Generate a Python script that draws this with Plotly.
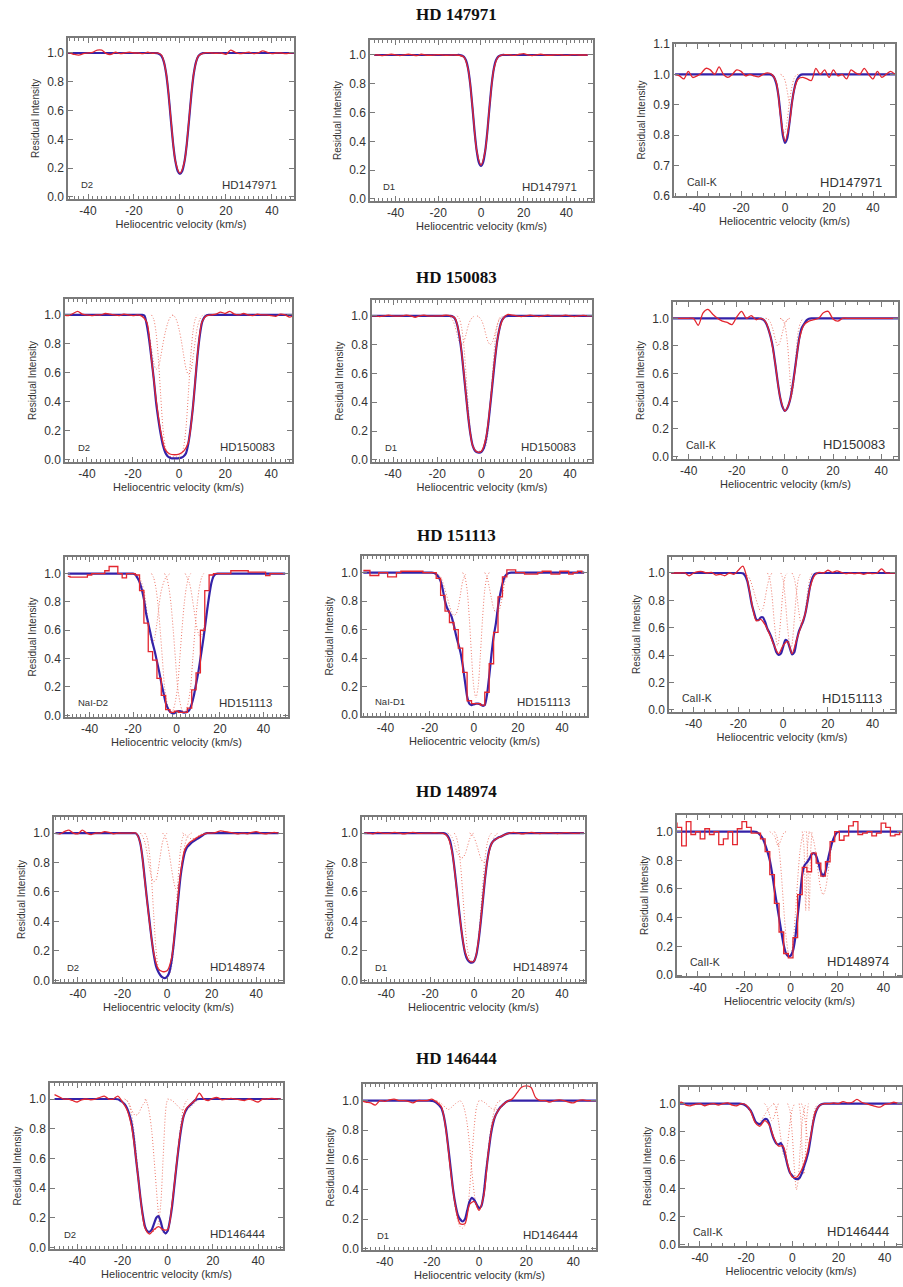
import plotly.graph_objects as go

# ---------------- data ----------------
V_OBS = list(range(-50, 51, 2))                 # observed spectrum grid (km/s)
V_FIT = [-50] + list(range(-24, 25)) + [50]     # fit grid (km/s)

ROW_TITLES = ["HD 147971", "HD 150083", "HD 151113", "HD 148974", "HD 146444"]
STAR_LABELS = ["HD147971", "HD150083", "HD151113", "HD148974", "HD146444"]
LINE_LABELS = [["D2", "D1", "CaII-K"], ["D2", "D1", "CaII-K"], ["NaI-D2", "NaI-D1", "CaII-K"],
               ["D2", "D1", "CaII-K"], ["D2", "D1", "CaII-K"]]
X_TICKS = [-40, -20, 0, 20, 40]
Y_TICKS = [0.0, 0.2, 0.4, 0.6, 0.8, 1.0]
Y_TICKS_CAK1 = [0.6, 0.7, 0.8, 0.9, 1.0, 1.1]

# observed residual intensity on V_OBS
OBS_1 = [1.0,1.0,0.99,0.985,0.995,1.0,1.005,1.02,1.02,0.995,
         0.99,1.005,0.995,1.0,1.005,1.0,1.0,0.995,1.005,0.998,
         1.0,0.985,0.86,0.55,0.25,0.165,0.25,0.55,0.86,0.98,
         0.998,1.002,1.0,0.998,1.0,0.99,1.02,1.005,0.995,1.0,
         1.005,0.995,1.0,1.015,1.005,0.995,1.0,1.0,0.995,1.0, 1.0]
OBS_2 = [1.0,1.0,0.995,1.0,1.005,1.0,0.995,1.0,1.005,1.0,
         0.995,1.005,1.0,0.998,1.0,1.002,1.0,0.998,1.0,1.0,
         0.997,0.985,0.9,0.64,0.335,0.235,0.335,0.64,0.9,0.985,
         1.0,1.003,1.0,0.998,1.005,1.01,1.0,0.995,1.0,1.005,
         1.0,0.998,1.0,1.003,1.0,0.997,1.0,1.002,1.0,1.0, 1.0]
OBS_3 = [1.0,0.995,0.985,1.01,0.99,0.995,1.005,1.02,1.015,1.0,
         1.025,1.0,0.99,1.0,1.015,1.01,0.995,1.0,0.995,0.992,
         1.0,1.005,1.0,0.975,0.86,0.78,0.84,0.945,0.985,0.99,
         0.985,0.98,1.02,1.0,1.015,0.99,1.015,0.995,1.0,0.985,
         1.015,1.005,1.0,1.02,1.0,0.985,1.01,0.99,1.0,1.01, 1.0]
OBS_4 = [1.0,0.995,1.01,1.025,1.005,1.0,0.995,1.0,1.0,1.01,
         1.005,1.0,0.995,1.005,1.0,0.995,1.0,0.99,0.95,0.7,
         0.42,0.2,0.07,0.04,0.035,0.04,0.06,0.12,0.36,0.73,
         0.955,0.995,1.0,1.005,1.02,1.01,1.025,1.005,1.0,1.01,
         1.0,0.995,1.005,1.0,1.0,0.995,0.99,1.005,1.0,0.985, 1.0]
OBS_5 = [1.0,1.0,0.995,1.0,1.005,1.0,0.998,1.0,1.005,1.0,
         0.99,1.0,1.005,1.0,0.998,1.0,1.0,1.005,1.0,0.985,
         0.87,0.61,0.3,0.1,0.055,0.06,0.15,0.39,0.69,0.9,
         0.985,1.01,1.005,1.0,0.995,1.0,1.005,1.0,0.995,1.0,
         1.005,1.0,0.998,1.0,1.005,1.0,0.995,1.0,1.003,1.0, 1.0]
OBS_6 = [1.0,1.0,1.0,1.0,1.0,1.0,1.0,0.95,1.04,1.065,
         1.03,1.0,0.98,0.97,0.955,1.01,1.05,1.0,1.02,0.99,
         1.0,0.975,0.87,0.67,0.43,0.33,0.4,0.6,0.85,0.955,
         0.98,0.99,1.0,1.04,1.05,0.995,0.98,1.0,1.0,1.0,
         1.0,1.0,1.0,1.0,1.0,1.0,1.0,1.0,1.0,1.0, 1.0]
OBS_7 = [0.98,0.975,0.975,0.975,0.975,0.99,1.0,1.0,1.0,1.02,
         1.05,1.05,1.0,0.97,1.0,1.0,0.99,0.88,0.65,0.45,
         0.39,0.26,0.14,0.04,0.02,0.03,0.02,0.02,0.05,0.18,
         0.3,0.6,0.88,0.99,1.0,1.0,1.0,1.0,1.02,1.02,
         1.02,1.02,1.01,1.01,1.01,1.01,0.985,1.0,1.0,1.0, 1.0]
OBS_8 = [1.015,1.015,0.98,0.98,1.0,1.0,0.97,0.97,1.0,1.01,
         1.01,1.01,1.01,1.01,1.0,1.0,1.0,0.96,0.84,0.73,
         0.65,0.6,0.47,0.3,0.1,0.08,0.08,0.07,0.16,0.36,
         0.58,0.83,0.97,1.02,1.02,1.0,1.0,0.99,0.99,0.99,
         1.0,1.01,1.01,0.99,0.99,1.01,1.01,0.99,1.0,1.01, 1.0]
OBS_9 = [1.0,1.0,1.0,1.0,0.98,1.0,1.01,1.01,1.0,1.005,
         0.985,0.99,0.98,1.0,0.99,1.02,1.05,0.95,0.78,0.65,
         0.66,0.62,0.55,0.47,0.41,0.47,0.5,0.41,0.51,0.61,
         0.71,0.89,0.98,1.005,1.0,1.02,1.005,1.015,1.005,0.995,
         1.0,0.995,1.0,0.99,1.0,0.995,1.0,1.03,1.0,1.0, 1.0]
OBS_10 = [1.0,0.995,1.01,1.02,1.0,0.995,1.02,1.0,0.99,1.0,
          1.0,1.01,1.005,0.995,1.0,1.0,1.0,1.0,1.0,0.93,
          0.68,0.41,0.19,0.08,0.06,0.065,0.15,0.42,0.72,0.89,
          0.935,0.955,0.975,0.99,1.0,1.0,1.005,1.015,1.01,1.005,
          1.0,0.995,1.0,0.995,1.005,1.01,1.0,0.995,1.0,1.005, 1.0]
OBS_11 = [1.0,1.0,0.995,1.005,1.0,0.998,1.0,1.005,1.0,0.995,
          1.0,1.005,1.0,0.998,1.0,1.0,1.002,1.0,0.998,0.975,
          0.87,0.63,0.37,0.19,0.13,0.13,0.27,0.55,0.81,0.93,
          0.96,0.975,0.99,1.0,1.005,1.0,0.995,1.0,1.005,1.0,
          0.997,1.0,1.003,1.0,0.997,1.0,1.003,1.0,0.998,1.0, 1.0]
OBS_12 = [1.06,1.03,0.9,1.07,0.98,1.0,0.95,1.02,0.98,1.0,
          0.91,0.95,1.0,0.91,1.02,1.07,1.03,0.99,0.99,0.95,
          0.86,0.7,0.5,0.3,0.15,0.12,0.26,0.56,0.75,0.72,
          0.85,0.78,0.69,0.79,0.93,1.0,0.94,0.97,1.04,1.07,
          0.98,0.99,1.0,0.97,0.99,1.06,1.03,0.97,0.98,1.0, 1.0]
OBS_13 = [1.03,1.015,1.0,1.0,0.99,0.98,0.995,1.0,0.995,1.0,
          1.01,1.02,1.0,1.0,1.02,0.98,0.93,0.82,0.6,0.33,
          0.13,0.09,0.12,0.14,0.12,0.12,0.3,0.57,0.81,0.93,
          0.965,0.99,1.04,1.0,0.99,1.005,1.01,0.995,1.0,1.005,
          1.0,0.995,0.99,1.0,0.99,0.98,1.0,1.0,1.005,1.0, 1.0]
OBS_14 = [1.0,0.99,0.985,0.97,1.0,0.995,1.005,1.01,1.0,1.0,
          0.995,0.985,1.0,1.0,1.0,1.01,0.99,0.96,0.8,0.52,
          0.29,0.17,0.17,0.3,0.32,0.26,0.36,0.66,0.86,0.93,
          0.97,0.995,1.01,1.05,1.09,1.1,1.09,1.02,1.0,1.0,
          0.99,1.0,1.005,1.0,0.99,0.985,1.0,1.005,1.0,1.0, 1.0]
OBS_15 = [1.0,1.01,0.99,0.985,0.995,1.0,0.985,0.995,1.0,0.99,
          1.0,1.005,0.99,0.985,1.0,0.99,0.945,0.865,0.84,0.88,
          0.85,0.76,0.7,0.7,0.57,0.48,0.48,0.53,0.62,0.77,
          0.94,0.99,1.0,1.0,1.005,1.0,1.015,1.005,1.01,1.03,
          1.01,1.0,0.99,0.98,0.975,0.995,1.0,1.01,1.0,1.005, 1.0]

# fitted profiles on V_FIT
FIT_1 = [1.0, 1,1,1,1,1,1,1,1,1,1, 1,1,1,1,0.999,0.993,0.978,0.938,0.856,0.72,
         0.543,0.373,0.249,0.181,0.16,0.181,0.249,0.373,0.543,0.72,
         0.856,0.938,0.978,0.993,0.999,1,1,1,1,1, 1,1,1,1,1,1,1,1,1, 1.0]
FIT_2 = [1.0, 1,1,1,1,1,1,1,1,1,1, 1,1,1,1,1.0,0.996,0.987,0.962,0.903,0.794,
         0.638,0.47,0.335,0.255,0.23,0.255,0.335,0.47,0.638,0.794,
         0.903,0.962,0.987,0.996,1,1,1,1,1,1, 1,1,1,1,1,1,1,1,1, 1.0]
FIT_3 = [1.0, 1,1,1,1,1,1,1,1,1,1, 1,1,1,1,1,1,1,1,0.998,0.99,
         0.97,0.93,0.865,0.8,0.775,0.79,0.84,0.9,0.945,0.975,
         0.99,0.998,1,1,1,1,1,1,1,1, 1,1,1,1,1,1,1,1,1, 1.0]
FIT_4 = [1.0, 1,1,1,1,1,1,1,1,1,0.995, 0.93,0.83,0.7,0.56,0.4,0.28,0.18,0.1,0.05,0.025,
         0.015,0.01,0.01,0.01,0.012,0.015,0.025,0.045,0.11,0.22,
         0.36,0.54,0.72,0.86,0.95,0.985,0.998,1,1,1, 1,1,1,1,1,1,1,1,1, 1.0]
FIT_5 = [1.0, 1,1,1,1,1,1,1,1,1,1, 1,0.995,0.98,0.94,0.86,0.75,0.6,0.45,0.3,0.18,
         0.1,0.065,0.052,0.05,0.055,0.08,0.14,0.24,0.38,0.53,
         0.68,0.81,0.9,0.96,0.985,0.997,1,1,1,1, 1,1,1,1,1,1,1,1,1, 1.0]
FIT_6 = [1.0, 1,1,1,1,1,1,1,1,1,1, 1,1,1,1,0.998,0.99,0.97,0.93,0.87,0.79,
         0.67,0.54,0.43,0.36,0.33,0.35,0.4,0.49,0.61,0.74,
         0.86,0.93,0.96,0.985,0.997,1,1,1,1,1, 1,1,1,1,1,1,1,1,1, 1.0]
FIT_7 = [1.0, 1,1,1,1,1,0.995,0.97,0.94,0.89,0.82, 0.72,0.65,0.58,0.51,0.45,0.38,0.31,0.23,0.16,0.09,
         0.05,0.025,0.015,0.015,0.025,0.03,0.028,0.02,0.02,0.025,
         0.04,0.08,0.14,0.22,0.3,0.4,0.5,0.61,0.73,0.84, 0.93,0.98,0.997,1,1,1,1,1,1, 1.0]
FIT_8 = [1.0, 1,1,1,1,1,1,0.998,0.99,0.97,0.94, 0.88,0.8,0.75,0.72,0.69,0.63,0.56,0.5,0.44,0.35,
         0.24,0.13,0.08,0.07,0.075,0.08,0.08,0.075,0.065,0.07,
         0.14,0.27,0.42,0.55,0.64,0.76,0.85,0.92,0.97,0.99, 0.998,1,1,1,1,1,1,1,1, 1.0]
FIT_9 = [1.0, 1,1,1,1,1,1,0.998,0.98,0.94,0.86, 0.77,0.71,0.66,0.655,0.675,0.675,0.64,0.59,0.56,0.52,
         0.47,0.42,0.4,0.41,0.46,0.51,0.5,0.45,0.405,0.42,
         0.5,0.57,0.61,0.65,0.71,0.8,0.9,0.96,0.99,0.998, 1,1,1,1,1,1,1,1,1, 1.0]
FIT_10 = [1.0, 1,1,1,1,1,1,1,1,1,1, 0.998,0.98,0.93,0.83,0.69,0.55,0.42,0.29,0.18,0.1,
          0.06,0.035,0.02,0.015,0.025,0.055,0.13,0.25,0.4,0.55,
          0.7,0.8,0.87,0.905,0.92,0.935,0.945,0.955,0.965,0.975, 0.985,0.995,1,1,1,1,1,1,1, 1.0]
FIT_11 = [1.0, 1,1,1,1,1,1,1,1,1,1, 1,0.995,0.98,0.95,0.88,0.77,0.64,0.5,0.37,0.26,
          0.18,0.14,0.125,0.12,0.13,0.17,0.26,0.39,0.54,0.69,
          0.81,0.89,0.93,0.95,0.96,0.97,0.975,0.982,0.99,0.996, 1,1,1,1,1,1,1,1,1, 1.0]
FIT_12 = [1.0, 1,1,1,1,1,1,1,1,1,0.998, 0.99,0.975,0.95,0.91,0.86,0.8,0.71,0.6,0.5,0.4,
          0.3,0.21,0.15,0.13,0.135,0.17,0.26,0.41,0.55,0.7,
          0.765,0.785,0.81,0.84,0.85,0.83,0.78,0.72,0.69,0.72, 0.8,0.87,0.93,0.97,0.995,1,1,1,1, 1.0]
FIT_13 = [1.0, 1,1,0.998,0.99,0.98,0.965,0.94,0.9,0.84,0.74, 0.6,0.47,0.33,0.22,0.14,0.11,0.105,0.12,0.16,0.2,
          0.21,0.17,0.115,0.095,0.11,0.18,0.28,0.42,0.56,0.69,
          0.8,0.88,0.92,0.945,0.96,0.975,0.99,0.998,1,1, 1,1,1,1,1,1,1,1,1, 1.0]
FIT_14 = [1.0, 1,1,1,1,0.998,0.995,0.985,0.97,0.95,0.9, 0.81,0.68,0.54,0.4,0.3,0.23,0.2,0.185,0.2,0.26,
          0.32,0.345,0.33,0.3,0.275,0.29,0.37,0.52,0.65,0.77,
          0.85,0.9,0.93,0.955,0.97,0.985,0.995,1,1,1, 1,1,1,1,1,1,1,1,1, 1.0]
FIT_15 = [1.0, 1,1,0.998,0.995,0.985,0.97,0.95,0.915,0.875,0.86, 0.855,0.87,0.89,0.89,0.86,0.8,0.75,0.72,0.71,0.72,
          0.69,0.63,0.56,0.51,0.49,0.47,0.465,0.47,0.5,0.55,
          0.6,0.66,0.76,0.86,0.93,0.97,0.99,0.998,1,1, 1,1,1,1,1,1,1,1,1, 1.0]

# individual absorption components: lists of (velocity, intensity)
COMP_1 = []
COMP_2 = []
COMP_3 = [
    [(-6,1.0),(-5,0.995),(-4,0.975),(-3,0.93),(-2,0.87),(-1,0.82),(-0.5,0.805),(0,0.81),(1,0.85),(2,0.91),(3,0.955),(4,0.985),(5,0.997),(6,1.0)],
    [(-2,1.0),(-1,0.995),(0,0.98),(1,0.945),(2,0.905),(2.5,0.9),(3,0.905),(4,0.94),(5,0.975),(6,0.993),(7,1.0)],
]
COMP_4 = [
    [(-16,1.0),(-15,0.99),(-14,0.95),(-13,0.87),(-12,0.77),(-11,0.67),(-10,0.625),(-9,0.64),(-8,0.71),(-7,0.8),(-6,0.88),(-5,0.94),(-4,0.98),(-3,0.995),(-2,1.0)],
    [(-3,1.0),(-2,0.99),(-1,0.96),(0,0.9),(1,0.82),(2,0.72),(3,0.63),(4,0.59),(5,0.61),(6,0.7),(7,0.82),(8,0.92),(9,0.97),(10,0.995),(11,1.0)],
    [(-12,1.0),(-11,0.97),(-10,0.88),(-9,0.7),(-8,0.45),(-7,0.22),(-6,0.09),(-5,0.04),(-4,0.025),(-3,0.02),(-2,0.02),(-1,0.02),(0,0.025),(1,0.04),(2,0.09),(3,0.22),(4,0.45),(5,0.7),(6,0.88),(7,0.97),(8,1.0)],
]
COMP_5 = [
    [(-15,1.0),(-14,0.99),(-13,0.97),(-12,0.93),(-11,0.87),(-10,0.82),(-9,0.8),(-8,0.82),(-7,0.87),(-6,0.93),(-5,0.97),(-4,0.99),(-3,1.0)],
    [(-2,1.0),(-1,0.99),(0,0.97),(1,0.93),(2,0.87),(3,0.82),(4,0.8),(5,0.82),(6,0.87),(7,0.93),(8,0.97),(9,0.99),(10,1.0)],
    [(-11,1.0),(-10,0.98),(-9,0.92),(-8,0.8),(-7,0.6),(-6,0.38),(-5,0.2),(-4,0.1),(-3,0.07),(-2,0.06),(-1,0.06),(0,0.06),(1,0.07),(2,0.1),(3,0.2),(4,0.38),(5,0.6),(6,0.8),(7,0.92),(8,0.98),(9,1.0)],
]
COMP_6 = [
    [(-8,1.0),(-7,0.995),(-6,0.97),(-5,0.92),(-4,0.85),(-3,0.8),(-2,0.83),(-1,0.9),(0,0.96),(1,0.99),(2,1.0)],
    [(-2,1.0),(-1,0.99),(0,0.97),(1,0.99),(2,1.0)],
    [(-2,1.0),(-1,0.99),(0,0.95),(1,0.83),(2,0.6),(2.7,0.43),(3.5,0.5),(4.5,0.72),(5.5,0.9),(6.5,0.97),(7.5,1.0)],
]
COMP_7 = [
    [(-11.5,1.0),(-10.5,0.97),(-9.5,0.9),(-8.5,0.78),(-7.5,0.6),(-6.5,0.4),(-5.5,0.2),(-4.5,0.1),(-3.5,0.04),(-2.5,0.02),(-1.5,0.04),(-0.5,0.1),(0.5,0.2),(1.5,0.4),(2.5,0.6),(3.5,0.78),(4.5,0.9),(5.5,0.97),(6.5,1.0)],
    [(-5.5,1.0),(-4.5,0.97),(-3.5,0.9),(-2.5,0.78),(-1.5,0.6),(-0.5,0.4),(0.5,0.2),(1.5,0.1),(2.5,0.04),(3.5,0.02),(4.5,0.04),(5.5,0.1),(6.5,0.2),(7.5,0.4),(8.5,0.6),(9.5,0.78),(10.5,0.9),(11.5,0.97),(12.5,1.0)],
    [(-19,1.0),(-17,0.97),(-15,0.88),(-13,0.65),(-12,0.55),(-11,0.5),(-10,0.55),(-9,0.65),(-7,0.88),(-5,0.97),(-3,1.0)],
    [(4,1.0),(6,0.93),(8,0.75),(9,0.65),(10,0.58),(11,0.55),(12,0.58),(13,0.65),(14,0.75),(16,0.93),(18,1.0)],
]
COMP_8 = [
    [(-17,1.0),(-15,0.97),(-13,0.88),(-11,0.77),(-10,0.72),(-9,0.7),(-8,0.71),(-7,0.76),(-6,0.85),(-5,0.94),(-4,0.98),(-3,1.0)],
    [(-5,1.0),(-4,0.97),(-3,0.88),(-2,0.68),(-1,0.42),(0,0.2),(1,0.12),(2,0.2),(3,0.42),(4,0.68),(5,0.88),(6,0.97),(7,1.0)],
    [(5,1.0),(6,0.97),(7,0.9),(8,0.82),(9,0.75),(10,0.72),(11,0.72),(12,0.76),(13,0.84),(14,0.93),(15,0.98),(16,1.0)],
]
COMP_9 = [
    [(-17,1.0),(-15,0.96),(-13,0.86),(-11,0.75),(-10,0.72),(-9,0.74),(-8,0.82),(-7,0.91),(-6,0.97),(-5,1.0)],
    [(-7,1.0),(-6,0.96),(-5,0.84),(-4,0.65),(-3,0.5),(-2.5,0.47),(-2,0.5),(-1,0.68),(0,0.88),(1,0.98),(2,1.0)],
    [(-1,1.0),(0,0.95),(1,0.8),(2,0.6),(3,0.47),(3.5,0.45),(4,0.48),(5,0.66),(6,0.86),(7,0.97),(8,1.0)],
    [(4,1.0),(5,0.96),(6,0.86),(7,0.72),(8,0.63),(8.5,0.62),(9,0.64),(10,0.74),(11,0.87),(12,0.96),(13,1.0)],
]
COMP_10 = [
    [(-12,1.0),(-11,0.98),(-10,0.94),(-9,0.87),(-8,0.78),(-7,0.7),(-6,0.67),(-5,0.68),(-4,0.75),(-3,0.85),(-2,0.94),(-1,0.98),(0,1.0)],
    [(-2,1.0),(-1,0.98),(0,0.94),(1,0.86),(2,0.76),(3,0.67),(4,0.62),(5,0.64),(6,0.72),(7,0.83),(8,0.92),(9,0.97),(10,0.99),(11,1.0)],
    [(7,1.0),(9,0.98),(11,0.96),(13,0.97),(15,0.99),(17,1.0)],
    [(-10,1.0),(-9,0.97),(-8,0.88),(-7,0.7),(-6,0.45),(-5,0.22),(-4,0.09),(-3,0.04),(-2,0.025),(-1,0.02),(0,0.025),(1,0.04),(2,0.09),(3,0.22),(4,0.45),(5,0.7),(6,0.88),(7,0.97),(8,1.0)],
]
COMP_11 = [
    [(-12,1.0),(-11,0.99),(-10,0.97),(-9,0.93),(-8,0.88),(-7,0.85),(-6,0.83),(-5,0.835),(-4,0.86),(-3,0.91),(-2,0.96),(-1,0.99),(0,1.0)],
    [(-2,1.0),(-1,0.99),(0,0.97),(1,0.93),(2,0.88),(3,0.83),(4,0.805),(5,0.8),(6,0.82),(7,0.87),(8,0.93),(9,0.97),(10,0.99),(11,1.0)],
    [(-9,1.0),(-8,0.97),(-7,0.9),(-6,0.76),(-5,0.56),(-4,0.36),(-3,0.21),(-2,0.15),(-1,0.13),(0,0.135),(1,0.17),(2,0.28),(3,0.46),(4,0.66),(5,0.83),(6,0.93),(7,0.98),(8,1.0)],
]
COMP_12 = [
    [(-9,1.0),(-7,0.97),(-6,0.92),(-5.4,0.9),(-5,0.91),(-4,0.95),(-3,0.99),(-2,1.0)],
    [(-7,1.0),(-6,0.97),(-5,0.88),(-4,0.7),(-3,0.47),(-2,0.27),(-1,0.15),(-0.5,0.12),(0,0.13),(1,0.22),(2,0.42),(3,0.66),(4,0.86),(5,0.96),(6,1.0)],
    [(5,1.0),(5.7,0.9),(6.2,0.6),(6.5,0.45),(6.8,0.6),(7.3,0.9),(8,1.0)],
    [(6.8,1.0),(7.3,0.85),(7.7,0.55),(7.9,0.45),(8.2,0.55),(8.6,0.85),(9.2,1.0)],
    [(8,1.0),(9,0.98),(10,0.93),(11,0.83),(12,0.7),(13,0.6),(14,0.56),(15,0.6),(16,0.7),(17,0.83),(18,0.93),(19,0.98),(20,1.0)],
]
COMP_13 = [
    [(-18,0.99),(-17,0.96),(-16,0.9),(-15,0.8),(-14,0.66),(-13,0.5),(-12,0.34),(-11,0.22),(-10,0.14),(-9,0.1),(-8,0.09),(-7,0.1),(-6,0.11),(-5,0.13),(-4,0.17),(-3,0.3),(-2,0.6),(-1,0.9),(-0.5,0.97),(0,1.0)],
    [(-10,1.0),(-9,0.97),(-8,0.9),(-7,0.78),(-6,0.6),(-5,0.4),(-4,0.22),(-3,0.13),(-2,0.1),(-1,0.09),(0,0.11),(1,0.18),(2,0.3),(3,0.43),(4,0.57),(5,0.72),(6,0.85),(7,0.94),(8,0.98),(9,1.0)],
    [(-19,1.0),(-18,0.99),(-17,0.97),(-16,0.93),(-15,0.9),(-14.3,0.89),(-13,0.9),(-12,0.93),(-11,0.96),(-10,0.98),(-9,1.0)],
    [(0,1.0),(2,0.99),(4,0.96),(6,0.93),(7.4,0.92),(9,0.93),(11,0.96),(13,0.99),(14,1.0)],
]
COMP_14 = [
    [(-18,1.0),(-16,0.96),(-15,0.9),(-14,0.81),(-13,0.68),(-12,0.53),(-11,0.39),(-10,0.27),(-9,0.19),(-8,0.15),(-7,0.14),(-6,0.16),(-5,0.24),(-4,0.4),(-3,0.62),(-2,0.83),(-1,0.96),(0,1.0)],
    [(-8,1.0),(-7,0.98),(-6,0.93),(-5,0.84),(-4,0.7),(-3,0.52),(-2,0.37),(-1,0.28),(0,0.26),(1,0.3),(2,0.4),(3,0.54),(4,0.68),(5,0.81),(6,0.9),(7,0.96),(8,0.99),(9,1.0)],
    [(-18,1.0),(-16,0.98),(-14,0.95),(-13,0.94),(-12,0.95),(-10,0.98),(-8,1.0)],
    [(1,1.0),(3,0.98),(5,0.95),(7,0.94),(9,0.95),(11,0.98),(13,1.0)],
]
COMP_15 = [
    [(-22,1.0),(-20,0.98),(-18,0.94),(-16,0.88),(-15,0.86),(-14,0.87),(-12,0.92),(-10,0.97),(-8,1.0)],
    [(-12,1.0),(-11,0.98),(-10,0.93),(-9,0.88),(-8,0.9),(-7,0.96),(-6,1.0)],
    [(-8,1.0),(-7,0.97),(-6,0.88),(-5,0.76),(-4,0.65),(-3.5,0.62),(-3,0.63),(-2,0.72),(-1,0.86),(0,0.96),(1,1.0)],
    [(-2,1.0),(-1,0.95),(0,0.78),(1,0.52),(1.8,0.39),(2.5,0.45),(3.5,0.7),(4.5,0.9),(5.5,0.98),(6,1.0)],
    [(3,1.0),(3.7,0.9),(4.3,0.65),(5,0.5),(5.7,0.65),(6.3,0.9),(7,1.0)],
    [(4,1.0),(5,0.95),(6,0.82),(7,0.72),(8,0.78),(9,0.9),(10,0.97),(11,1.0)],
]

OBS = [OBS_1, OBS_2, OBS_3, OBS_4, OBS_5, OBS_6, OBS_7, OBS_8, OBS_9, OBS_10, OBS_11, OBS_12, OBS_13, OBS_14, OBS_15]
FITS = [FIT_1, FIT_2, FIT_3, FIT_4, FIT_5, FIT_6, FIT_7, FIT_8, FIT_9, FIT_10, FIT_11, FIT_12, FIT_13, FIT_14, FIT_15]
COMPS = [COMP_1, COMP_2, COMP_3, COMP_4, COMP_5, COMP_6, COMP_7, COMP_8, COMP_9, COMP_10, COMP_11, COMP_12, COMP_13, COMP_14, COMP_15]

for _o in OBS:
    assert len(_o) == len(V_OBS), len(_o)
for _f in FITS:
    assert len(_f) == len(V_FIT), len(_f)

# ---------------- geometry / style ----------------
W, H = 903, 1287
# plot boxes in pixels: (left, right, top, bottom)
BOXES = [(68, 294, 38, 199), (370, 593, 40, 201), (674, 895, 44, 196),
         (65, 292, 299, 462), (372, 592, 300, 462), (673, 898, 302, 459),
         (65, 288, 557, 717), (362, 587, 556, 716), (669, 895, 557, 712),
         (54, 283, 817, 982), (362, 585, 817, 982), (677, 902, 815, 976),
         (50, 283, 1083, 1249), (363, 596, 1084, 1250), (680, 902, 1087, 1246)]
XRANGES = [(-48.7, 49.6), (-52, 52.5), (-50.5, 50),
           (-49.5, 49), (-49.5, 50), (-46.5, 47),
           (-51.3, 51.3), (-50.6, 51.3), (-51, 50),
           (-50.7, 52), (-51, 50.5), (-49, 48),
           (-52, 51), (-49.2, 49.6), (-48.6, 47.5)]
YRANGES = [(-0.014, 1.104), (-0.014, 1.104), (0.6, 1.1),
           (-0.015, 1.11), (-0.015, 1.11), (-0.017, 1.118),
           (-0.012, 1.117), (-0.007, 1.117), (-0.017, 1.117),
           (-0.011, 1.109), (-0.011, 1.109), (-0.007, 1.116),
           (-0.011, 1.108), (-0.007, 1.112), (-0.009, 1.118)]
TITLE_Y = [14, 278, 535, 791, 1058]
STEP_PANELS = {6, 7, 11}

RED = "#e3262f"
BLUE = "#3422a8"
COMPC = "#ef7a6c"
FRAME = "#7a7a7a"
TXT = "#333333"
FONT = "Liberation Sans, Arial, sans-serif"

fig = go.Figure()
layout = dict(width=W, height=H, margin=dict(l=0, r=0, t=0, b=0),
              paper_bgcolor="white", plot_bgcolor="white", showlegend=False,
              font=dict(family=FONT, color=TXT))
annotations = []

for i in range(15):
    r, c = divmod(i, 3)
    n = i + 1
    xa = "x" if n == 1 else f"x{n}"
    ya = "y" if n == 1 else f"y{n}"
    for comp in COMPS[i]:
        fig.add_trace(go.Scatter(x=[p[0] for p in comp], y=[p[1] for p in comp], mode="lines",
                                 line=dict(color=COMPC, width=1, dash="1px,2px", shape="spline", smoothing=0.8),
                                 xaxis=xa, yaxis=ya, hoverinfo="skip"))
    fig.add_trace(go.Scatter(x=V_FIT, y=FITS[i], mode="lines",
                             line=dict(color=BLUE, width=2.2, shape="spline", smoothing=0.6),
                             xaxis=xa, yaxis=ya))
    shape = "hvh" if i in STEP_PANELS else "spline"
    oline = dict(color=RED, width=1.3, shape=shape)
    if shape == "spline":
        oline["smoothing"] = 0.8
    fig.add_trace(go.Scatter(x=V_OBS, y=OBS[i], mode="lines", line=oline,
                             xaxis=xa, yaxis=ya, connectgaps=False))

    L, R, T, B = BOXES[i]
    col3 = (c == 2)
    xkey = "xaxis" if n == 1 else f"xaxis{n}"
    ykey = "yaxis" if n == 1 else f"yaxis{n}"
    layout[xkey] = dict(domain=[L / W, R / W], range=list(XRANGES[i]), anchor=ya,
                        tickvals=X_TICKS, ticktext=[str(t) for t in X_TICKS],
                        ticks="inside", ticklen=5, tickwidth=1, tickcolor=FRAME,
                        mirror="allticks", showline=True, linecolor=FRAME, linewidth=1.5,
                        showgrid=False, zeroline=False, automargin=False,
                        minor=dict(dtick=5 if col3 else 2, ticks="inside", ticklen=3, tickcolor=FRAME, showgrid=False),
                        tickfont=dict(size=12, color=TXT, family=FONT),
                        title=dict(text="Heliocentric velocity (km/s)", font=dict(size=11, color=TXT, family=FONT), standoff=2))
    layout[ykey] = dict(domain=[1 - B / H, 1 - T / H], range=list(YRANGES[i]), anchor=xa,
                        tickvals=Y_TICKS_CAK1 if i == 2 else Y_TICKS, tickformat=".1f",
                        ticks="inside", ticklen=5, tickwidth=1, tickcolor=FRAME,
                        mirror="allticks", showline=True, linecolor=FRAME, linewidth=1.5,
                        showgrid=False, zeroline=False, automargin=False,
                        tickfont=dict(size=12, color=TXT, family=FONT),
                        title=dict(text="Residual Intensity", font=dict(size=10, color=TXT, family=FONT), standoff=6))
    # panel labels
    lab = LINE_LABELS[r][c]
    annotations.append(dict(text=lab, xref=f"{xa} domain", yref=f"{ya} domain", x=0.05, y=0.09,
                            xanchor="left", yanchor="middle", showarrow=False,
                            font=dict(size=10.5 if col3 else 9.5, color=TXT, family=FONT)))
    annotations.append(dict(text=STAR_LABELS[r], xref=f"{xa} domain", yref=f"{ya} domain", x=0.95 if col3 else 0.935, y=0.09,
                            xanchor="right", yanchor="middle", showarrow=False,
                            font=dict(size=13 if col3 else 11.5, color=TXT, family=FONT)))

for r in range(5):
    annotations.append(dict(text=f"<b>{ROW_TITLES[r]}</b>", xref="paper", yref="paper",
                            x=456 / W, y=1 - TITLE_Y[r] / H, xanchor="center", yanchor="middle",
                            showarrow=False, font=dict(size=17, color="#111111", family="Liberation Serif, Times New Roman, serif")))

layout["annotations"] = annotations
fig.update_layout(**layout)
fig.write_html("out.html")
